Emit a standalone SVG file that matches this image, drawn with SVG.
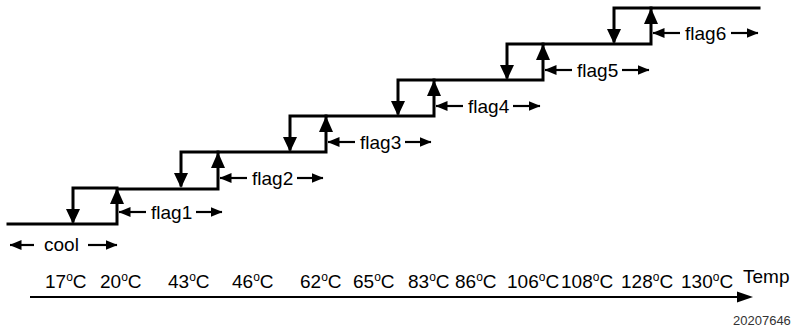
<svg xmlns="http://www.w3.org/2000/svg" width="791" height="330" viewBox="0 0 791 330">
<defs>
<style>
.st{fill:none;stroke:#000;stroke-width:3;stroke-linecap:square;stroke-linejoin:miter}
.ah{fill:#000}
.fl{fill:none;stroke:#000;stroke-width:2.2}
.t{font-family:"Liberation Sans",Arial,sans-serif;font-size:19px;fill:#000}
.sup{font-size:12px}
.id{font-family:"Liberation Sans",Arial,sans-serif;font-size:13px;fill:#333}
</style>
<marker id="mh" markerUnits="userSpaceOnUse" markerWidth="12" markerHeight="10" refX="11.5" refY="5" orient="auto" viewBox="0 0 12 10">
<path d="M0,0 L12,5 L0,10 Z" fill="#000"/>
</marker>
</defs>
<rect width="791" height="330" fill="#fff"/>
<g id="connectors">
<path class="st" d="M8,224 H117 V189 H218 V152 H326 V116 H434 V80 H543 V44 H651 V8 H759"/>
<path class="st" d="M73,221 V188 H117 M181,185 V152 H218 M290,149 V116 H326 M398,113 V80 H434 M507,77 V44 H543 M614,41 V8 H651"/>
<g class="ah">
<polygon points="73,224 66,209 80,209"/>
<polygon points="181,188 174,173 188,173"/>
<polygon points="290,152 283,137 297,137"/>
<polygon points="398,116 391,101 405,101"/>
<polygon points="507,80 500,65 514,65"/>
<polygon points="614,44 607,29 621,29"/>
<polygon points="117,188 110,204 124,204"/>
<polygon points="218,152 211,168 225,168"/>
<polygon points="326,116 319,132 333,132"/>
<polygon points="434,80 427,96 441,96"/>
<polygon points="543,44 536,60 550,60"/>
<polygon points="651,8 644,24 658,24"/>
</g>
</g>
<g id="cool">
<line class="fl" x1="34" y1="245" x2="10" y2="245" marker-end="url(#mh)"/>
<text class="t" x="44" y="251">cool</text>
<line class="fl" x1="88" y1="245" x2="117" y2="245" marker-end="url(#mh)"/>
</g>
<g id="flag1">
<line class="fl" x1="146" y1="212" x2="119" y2="212" marker-end="url(#mh)"/>
<text class="t" x="151" y="219">flag1</text>
<line class="fl" x1="196" y1="212" x2="222" y2="212" marker-end="url(#mh)"/>
</g>
<g id="flag2">
<line class="fl" x1="247" y1="178" x2="220" y2="178" marker-end="url(#mh)"/>
<text class="t" x="252" y="185">flag2</text>
<line class="fl" x1="297" y1="178" x2="323" y2="178" marker-end="url(#mh)"/>
</g>
<g id="flag3">
<line class="fl" x1="355" y1="142" x2="328" y2="142" marker-end="url(#mh)"/>
<text class="t" x="360" y="149">flag3</text>
<line class="fl" x1="405" y1="142" x2="431" y2="142" marker-end="url(#mh)"/>
</g>
<g id="flag4">
<line class="fl" x1="463" y1="106" x2="436" y2="106" marker-end="url(#mh)"/>
<text class="t" x="468" y="113">flag4</text>
<line class="fl" x1="513" y1="106" x2="540" y2="106" marker-end="url(#mh)"/>
</g>
<g id="flag5">
<line class="fl" x1="572" y1="70" x2="545" y2="70" marker-end="url(#mh)"/>
<text class="t" x="577" y="77">flag5</text>
<line class="fl" x1="622" y1="70" x2="649" y2="70" marker-end="url(#mh)"/>
</g>
<g id="flag6">
<line class="fl" x1="680" y1="33" x2="653" y2="33" marker-end="url(#mh)"/>
<text class="t" x="685" y="40">flag6</text>
<line class="fl" x1="731" y1="33" x2="758" y2="33" marker-end="url(#mh)"/>
</g>
<g id="temps">
<text class="t" x="45" y="288">17<tspan class="sup" dy="-7">o</tspan><tspan dy="7">C</tspan></text>
<text class="t" x="100" y="288">20<tspan class="sup" dy="-7">o</tspan><tspan dy="7">C</tspan></text>
<text class="t" x="168" y="288">43<tspan class="sup" dy="-7">o</tspan><tspan dy="7">C</tspan></text>
<text class="t" x="232" y="288">46<tspan class="sup" dy="-7">o</tspan><tspan dy="7">C</tspan></text>
<text class="t" x="300" y="288">62<tspan class="sup" dy="-7">o</tspan><tspan dy="7">C</tspan></text>
<text class="t" x="353" y="288">65<tspan class="sup" dy="-7">o</tspan><tspan dy="7">C</tspan></text>
<text class="t" x="408" y="288">83<tspan class="sup" dy="-7">o</tspan><tspan dy="7">C</tspan></text>
<text class="t" x="455" y="288">86<tspan class="sup" dy="-7">o</tspan><tspan dy="7">C</tspan></text>
<text class="t" x="507" y="288">106<tspan class="sup" dy="-7">o</tspan><tspan dy="7">C</tspan></text>
<text class="t" x="561" y="288">108<tspan class="sup" dy="-7">o</tspan><tspan dy="7">C</tspan></text>
<text class="t" x="621" y="288">128<tspan class="sup" dy="-7">o</tspan><tspan dy="7">C</tspan></text>
<text class="t" x="681" y="288">130<tspan class="sup" dy="-7">o</tspan><tspan dy="7">C</tspan></text>
</g>
<g id="axis">
<line x1="30" y1="297" x2="740" y2="297" stroke="#000" stroke-width="2"/>
<polygon class="ah" points="753,297 737,291.5 737,302.5"/>
<text class="t" x="743" y="283">Temp</text>
</g>
<text class="id" x="733" y="325">20207646</text>
</svg>
